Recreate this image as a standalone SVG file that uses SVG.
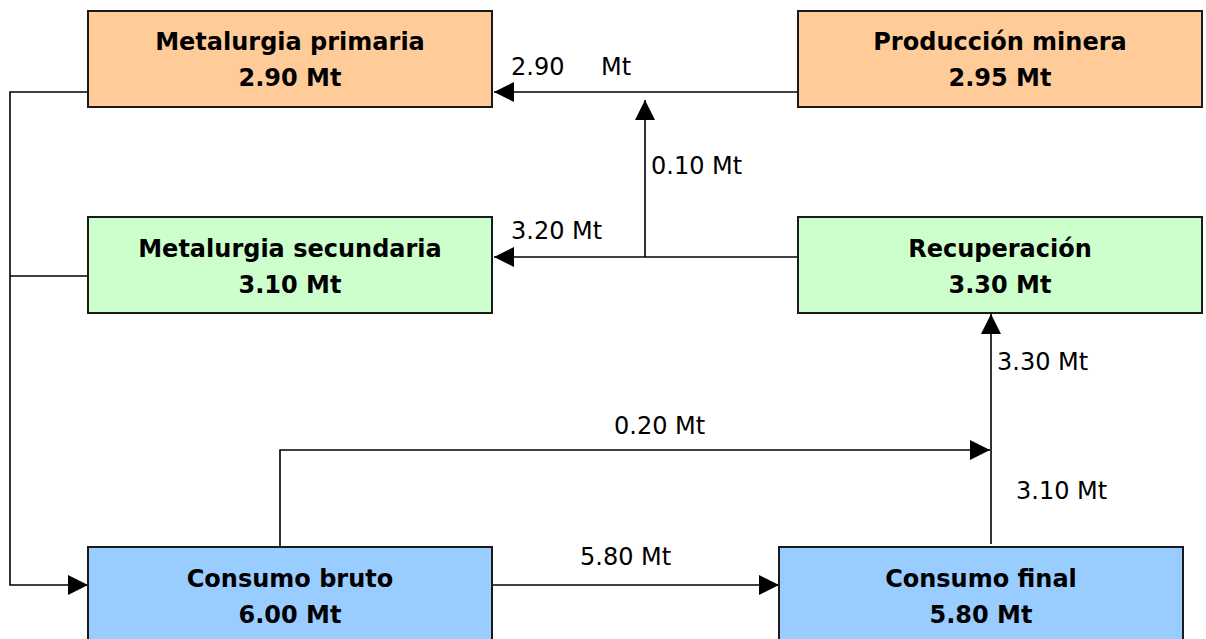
<svg xmlns="http://www.w3.org/2000/svg" width="1206" height="639" viewBox="0 0 1206 639">
<style>
.box{stroke:#1a1a1a;stroke-width:2}
.orange{fill:#FFCC99}
.green{fill:#CCFFCC}
.blue{fill:#99CCFF}
.title{font-family:"DejaVu Sans",sans-serif;font-weight:bold;font-size:24px;fill:#000;text-anchor:middle}
.lbl{font-family:"DejaVu Sans",sans-serif;font-size:24px;fill:#000}
.conn{fill:none;stroke:#000;stroke-width:1.6}
</style>
<defs>
<marker id="arr" markerUnits="userSpaceOnUse" markerWidth="22" markerHeight="22" refX="20" refY="10" orient="auto">
<path d="M0,0 L20,10 L0,20 z" fill="#000"/>
</marker>
</defs>
<rect width="1206" height="639" fill="#fff"/>
<g id="connectors">
<path class="conn" d="M798,92 H494" marker-end="url(#arr)"/>
<path class="conn" d="M798,257 H494" marker-end="url(#arr)"/>
<path class="conn" d="M645,257 V100" marker-end="url(#arr)"/>
<path class="conn" d="M88,92 H10 V585 H88" marker-end="url(#arr)"/>
<path class="conn" d="M88,276 H10"/>
<path class="conn" d="M492,585 H779" marker-end="url(#arr)"/>
<path class="conn" d="M280,547 V450 H990" marker-end="url(#arr)"/>
<path class="conn" d="M991,544 V314" marker-end="url(#arr)"/>
<text class="lbl" x="511" y="75">2.90</text>
<text class="lbl" x="601" y="75">Mt</text>
<text class="lbl" x="651" y="174">0.10 Mt</text>
<text class="lbl" x="511" y="239">3.20 Mt</text>
<text class="lbl" x="997" y="370">3.30 Mt</text>
<text class="lbl" x="614" y="434">0.20 Mt</text>
<text class="lbl" x="1016" y="499">3.10 Mt</text>
<text class="lbl" x="580" y="565">5.80 Mt</text>
</g>
<g id="metalurgia-primaria">
<rect class="box orange" x="88" y="11" width="404" height="96"/>
<text class="title" x="290" y="50">Metalurgia primaria</text>
<text class="title" x="290" y="86">2.90 Mt</text>
</g>
<g id="produccion-minera">
<rect class="box orange" x="798" y="11" width="404" height="96"/>
<text class="title" x="1000" y="50">Producción minera</text>
<text class="title" x="1000" y="86">2.95 Mt</text>
</g>
<g id="metalurgia-secundaria">
<rect class="box green" x="88" y="217" width="404" height="96"/>
<text class="title" x="290" y="257">Metalurgia secundaria</text>
<text class="title" x="290" y="293">3.10 Mt</text>
</g>
<g id="recuperacion">
<rect class="box green" x="798" y="217" width="404" height="96"/>
<text class="title" x="1000" y="257">Recuperación</text>
<text class="title" x="1000" y="293">3.30 Mt</text>
</g>
<g id="consumo-bruto">
<rect class="box blue" x="88" y="547" width="404" height="100"/>
<text class="title" x="290" y="587">Consumo bruto</text>
<text class="title" x="290" y="623">6.00 Mt</text>
</g>
<g id="consumo-final">
<rect class="box blue" x="779" y="547" width="404" height="100"/>
<text class="title" x="981" y="587">Consumo final</text>
<text class="title" x="981" y="623">5.80 Mt</text>
</g>
</svg>
